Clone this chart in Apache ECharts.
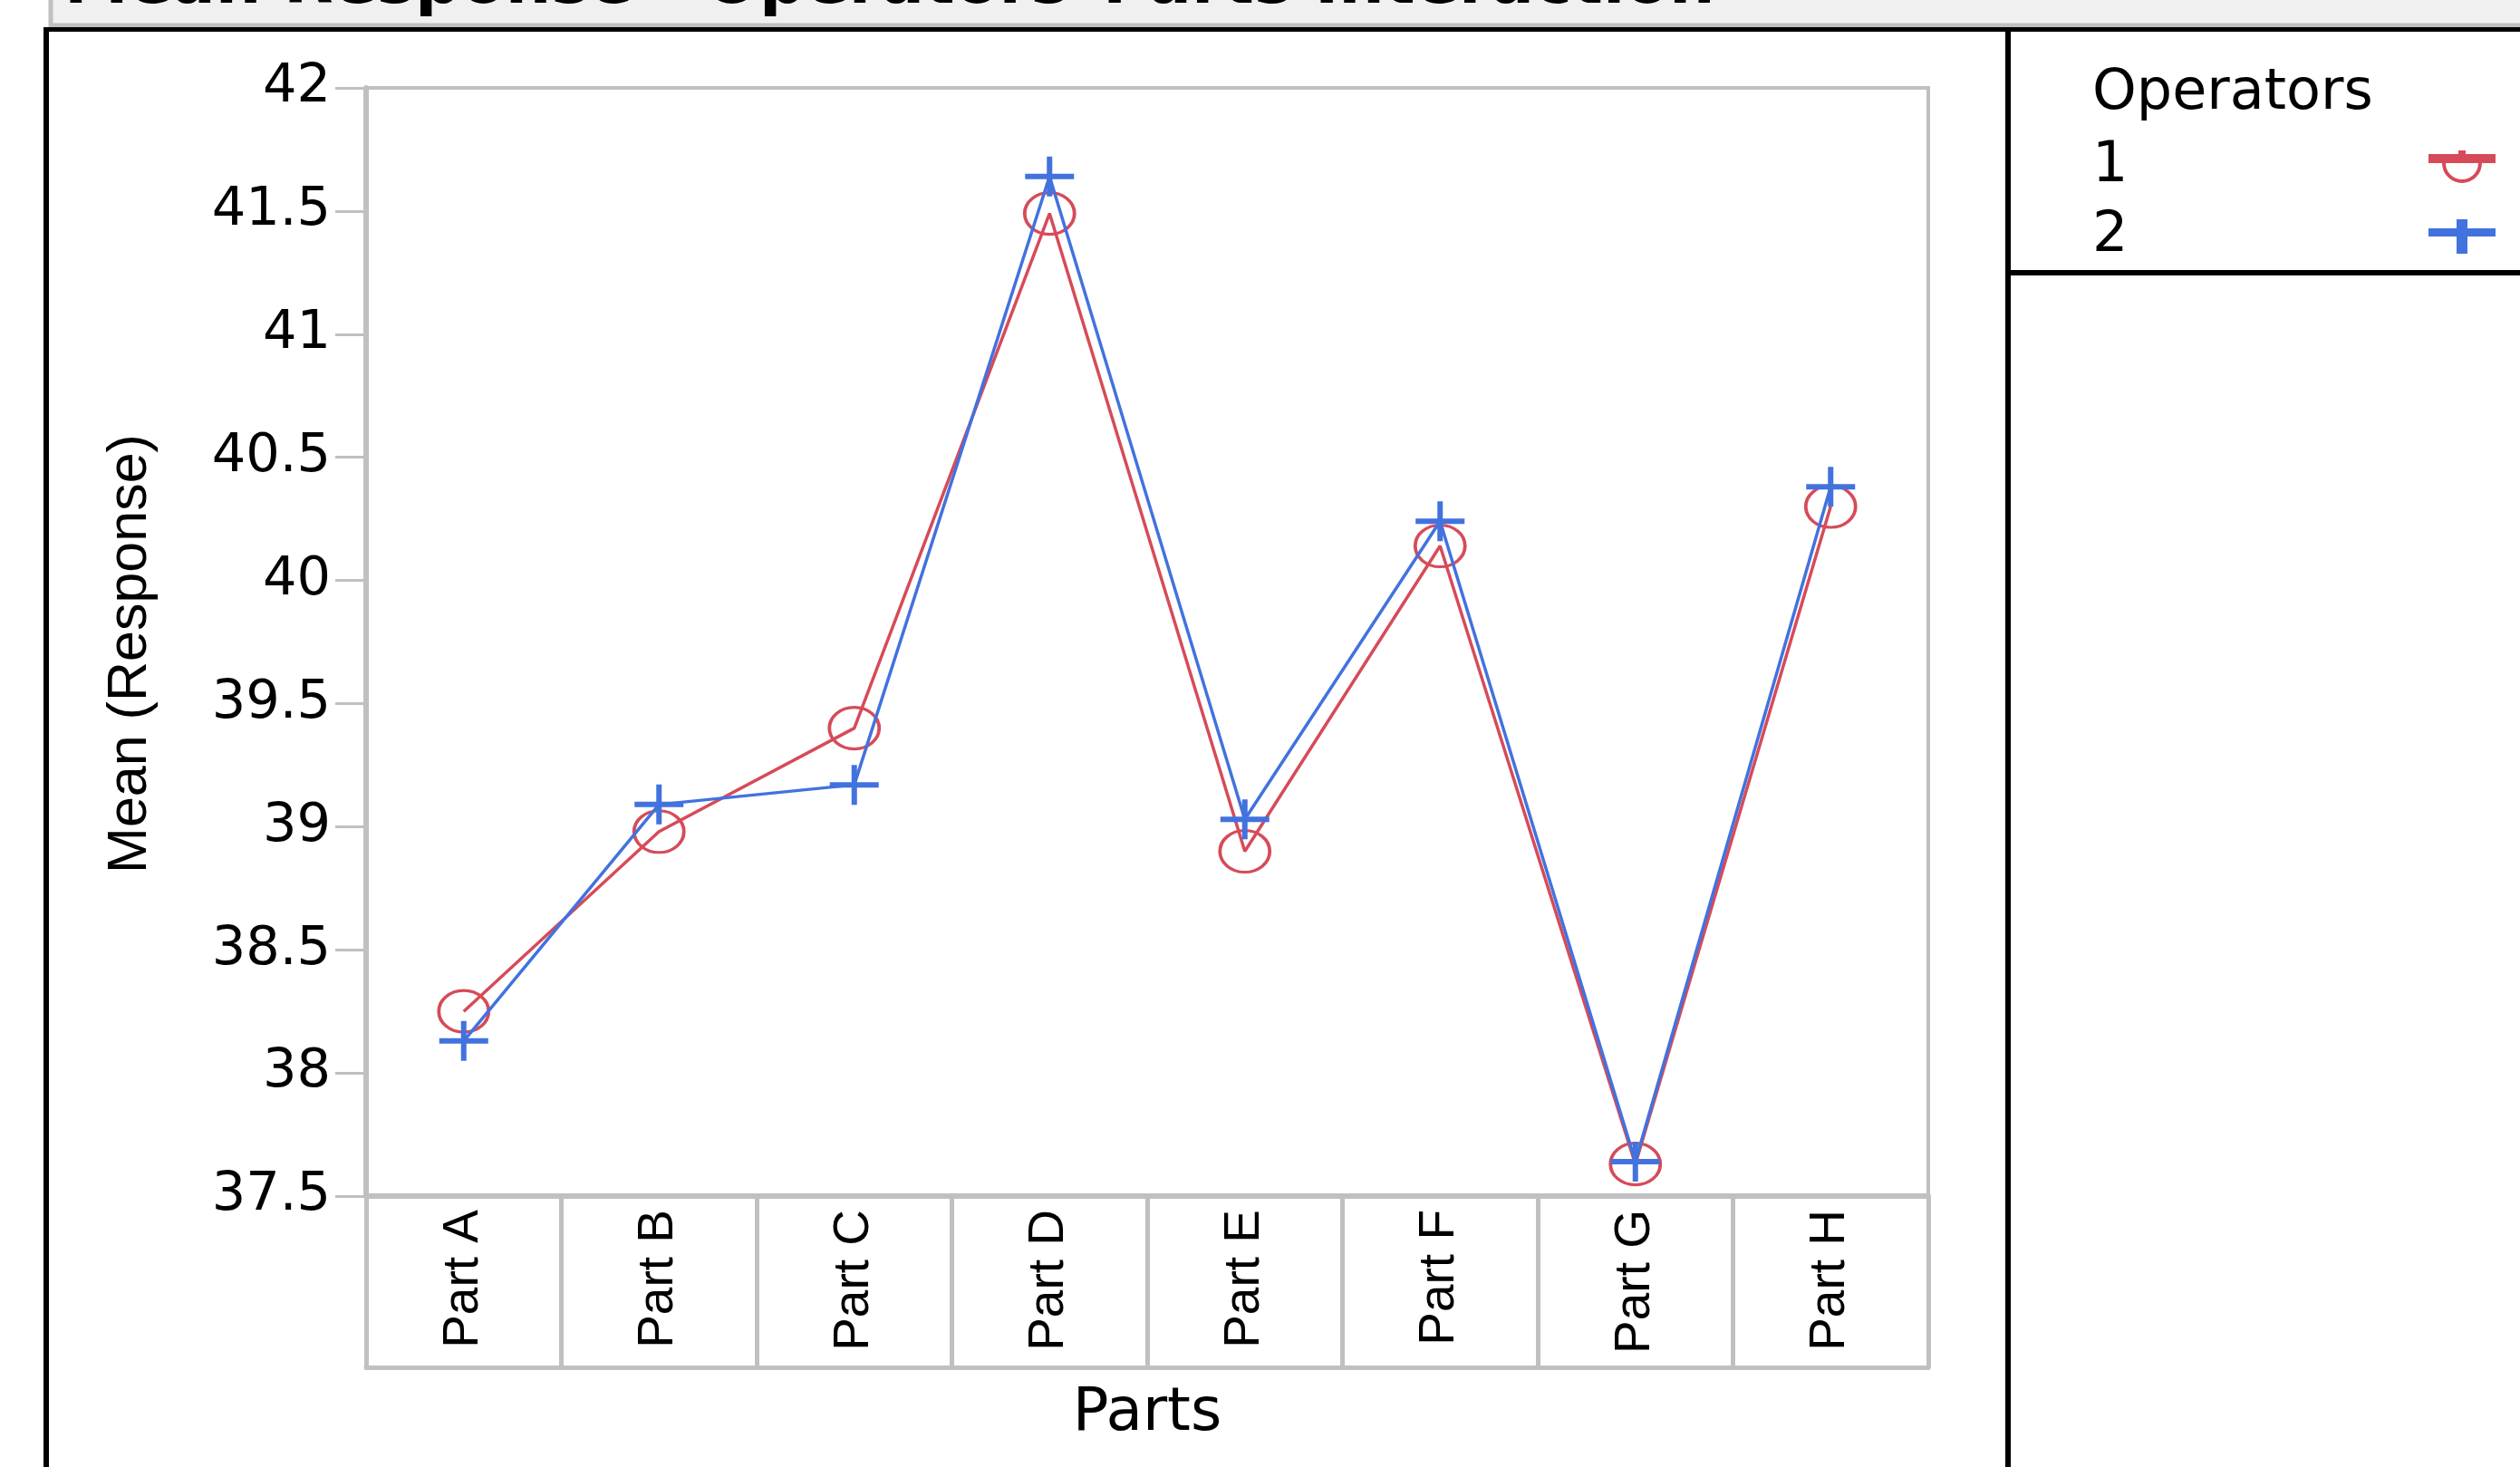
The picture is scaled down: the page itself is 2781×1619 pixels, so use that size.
<!DOCTYPE html>
<html>
<head>
<meta charset="utf-8">
<script src="https://cdn.jsdelivr.net/npm/echarts@6/dist/echarts.min.js"></script>
<style>
  html, body { margin: 0; padding: 0; background: #ffffff; }
  #chart { width: 2781px; height: 1619px; }
</style>
</head>
<body>
<div id="chart"></div>
<script>
// Mean response for each part, one list per operator
const parts = ['Part A', 'Part B', 'Part C', 'Part D', 'Part E', 'Part F', 'Part G', 'Part H'];
const operatorNames = ['1', '2'];
const operator1 = [38.25, 38.98, 39.40, 41.49, 38.90, 40.14, 37.63, 40.30];
const operator2 = [38.13, 39.09, 39.17, 41.64, 39.03, 40.24, 37.64, 40.38];
const yMin = 37.5;
const yMax = 42;
const yStep = 0.5;

const RED = '#D64B59';
const BLUE = '#4272DE';
const FRAME = '#c0c0c0';
const FONT = 'Arial, "Liberation Sans", sans-serif';
const WIDE_FONT = '"DejaVu Sans", Verdana, sans-serif';

// plus-sign marker, and legend icons (line segment with marker)
const plusMarker = 'path://M24,0 H30 V19 H54 V25 H30 V44 H24 V25 H0 V19 H24 Z';
const legendCircleIcon = 'path://M33,0 H41 V4 H74 V14 H59 A22,22 0 0 1 15,14 H0 V4 H33 Z M19,14 A18,18 0 0 0 55,14 Z';
const legendPlusIcon = 'path://M31,0 H43 V10 H74 V19 H43 V38 H31 V19 H0 V10 H31 Z';

const chart = echarts.init(document.getElementById('chart'), null, { renderer: 'canvas' });

chart.setOption({
  backgroundColor: '#ffffff',
  animation: false,
  title: [
    {
      text: 'Mean Response - Operators*Parts Interaction',
      left: 71, top: -51, padding: 0,
      textStyle: { fontFamily: WIDE_FONT, fontSize: 71, fontWeight: 'bold', color: '#000' }
    },
    {
      text: 'Operators',
      left: 2309, top: 73, padding: 0,
      textStyle: { fontFamily: WIDE_FONT, fontSize: 62, fontWeight: 'normal', color: '#000' }
    }
  ],
  legend: {
    orient: 'vertical',
    left: 2309, top: 153, padding: 0,
    align: 'right',
    itemWidth: 74, itemHeight: 38, itemGap: 15,
    selectedMode: false,
    formatter: '{t|{name}}',
    textStyle: {
      fontFamily: WIDE_FONT, fontSize: 62, color: '#000',
      rich: { t: { fontFamily: WIDE_FONT, fontSize: 62, color: '#000', width: 366, align: 'left', lineHeight: 66 } }
    },
    data: [
      { name: operatorNames[0], icon: legendCircleIcon, itemStyle: { color: RED, borderWidth: 0 } },
      { name: operatorNames[1], icon: legendPlusIcon, itemStyle: { color: BLUE, borderWidth: 0 } }
    ]
  },
  graphic: [
    // header strip
    { type: 'rect', z: 0, shape: { x: 56, y: -10, width: 2740, height: 38 },
      style: { fill: '#f0f0f0', stroke: FRAME, lineWidth: 5 } },
    { type: 'rect', z: 1, shape: { x: 48, y: 30, width: 2733, height: 5 }, style: { fill: '#000' } },
    // panel borders
    { type: 'rect', z: 1, shape: { x: 48, y: 30, width: 6, height: 1600 }, style: { fill: '#000' } },
    { type: 'rect', z: 1, shape: { x: 2213, y: 30, width: 6, height: 1600 }, style: { fill: '#000' } },
    { type: 'rect', z: 1, shape: { x: 2213, y: 298, width: 568, height: 6 }, style: { fill: '#000' } }
  ],
  grid: {
    left: 404, top: 97, width: 1724, height: 1223,
    show: true, borderColor: FRAME, borderWidth: 4, backgroundColor: 'transparent',
    containLabel: false, outerBoundsMode: 'none'
  },
  xAxis: [
    {
      type: 'category', data: parts, boundaryGap: true, position: 'bottom',
      axisLine: { show: true, lineStyle: { color: FRAME, width: 6 } },
      axisTick: { show: true, inside: false, length: 189, interval: 0, alignWithLabel: false,
                  lineStyle: { color: FRAME, width: 5 } },
      axisLabel: { show: true, rotate: 90, interval: 0, margin: 15, fontFamily: FONT, fontSize: 55, color: '#000' },
      splitLine: { show: false },
      name: 'Parts', nameLocation: 'middle', nameGap: 208,
      nameTextStyle: { fontFamily: WIDE_FONT, fontSize: 66, color: '#000' }
    },
    {
      type: 'category', data: parts, boundaryGap: true, position: 'bottom', offset: 189,
      axisLine: { show: true, lineStyle: { color: FRAME, width: 5 } },
      axisTick: { show: false }, axisLabel: { show: false }, splitLine: { show: false }
    }
  ],
  yAxis: {
    type: 'value', min: yMin, max: yMax, interval: yStep,
    axisLine: { show: true, lineStyle: { color: FRAME, width: 6 } },
    axisTick: { show: true, inside: false, length: 34, lineStyle: { color: FRAME, width: 3 } },
    axisLabel: { show: true, margin: 39, fontFamily: WIDE_FONT, fontSize: 59, color: '#000' },
    splitLine: { show: false },
    name: 'Mean (Response)', nameLocation: 'middle', nameGap: 229, nameRotate: 90,
    nameTextStyle: { fontFamily: FONT, fontSize: 61, color: '#000', padding: [0, 26, 0, 0] }
  },
  series: [
    {
      name: operatorNames[0], type: 'line', data: operator1,
      symbol: 'circle', symbolSize: [55, 46],
      itemStyle: { color: 'rgba(0,0,0,0)', borderColor: RED, borderWidth: 3.5 },
      lineStyle: { color: RED, width: 3.5 },
      emphasis: { disabled: true }, z: 3
    },
    {
      name: operatorNames[1], type: 'line', data: operator2,
      symbol: plusMarker, symbolSize: [54, 44],
      itemStyle: { color: BLUE, borderWidth: 0 },
      lineStyle: { color: BLUE, width: 3.5 },
      emphasis: { disabled: true }, z: 4
    }
  ]
});
</script>
</body>
</html>
